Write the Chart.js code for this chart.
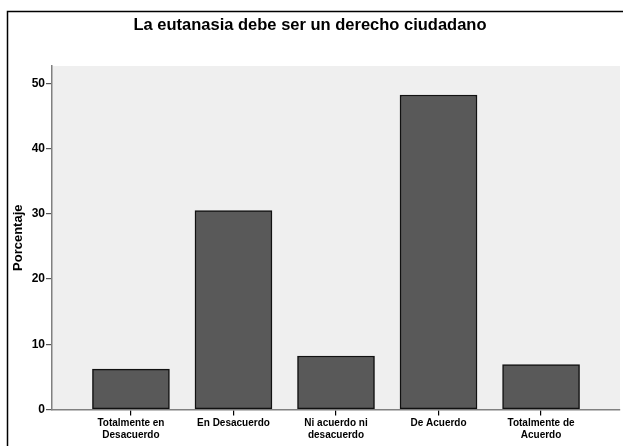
<!DOCTYPE html>
<html>
<head>
<meta charset="utf-8">
<script src="https://cdn.jsdelivr.net/npm/chart.js@4/dist/chart.umd.min.js"></script>
<style>
  html, body { margin: 0; padding: 0; background: #fff; }
  #wrap { width: 623px; height: 446px; }
</style>
</head>
<body>
<div id="wrap"><canvas id="chart" width="623" height="446"></canvas></div>
<script>
const FONT = '"Liberation Sans", Arial, sans-serif';

const categories = [
  ['Totalmente en', 'Desacuerdo'],
  ['En Desacuerdo'],
  ['Ni acuerdo ni', 'desacuerdo'],
  ['De Acuerdo'],
  ['Totalmente de', 'Acuerdo'],
];
const percentages = [6.2, 30.5, 8.2, 48.2, 6.9];
const yTicks = [0, 10, 20, 30, 40, 50];

// white page with the outer black frame, grey plot background
const framePlugin = {
  id: 'frame',
  beforeDraw(chart) {
    const { ctx, chartArea } = chart;
    ctx.save();
    ctx.fillStyle = '#ffffff';
    ctx.fillRect(0, 0, chart.width, chart.height);
    ctx.strokeStyle = '#000';
    ctx.lineWidth = 1.5;
    ctx.strokeRect(7.5, 11.5, chart.width + 20, chart.height + 20);
    ctx.fillStyle = '#efefef';
    ctx.fillRect(chartArea.left, chartArea.top, chartArea.right - chartArea.left, chartArea.bottom - chartArea.top);
    ctx.restore();
  },
};

new Chart(document.getElementById('chart'), {
  type: 'bar',
  data: {
    datasets: [{
      data: percentages.map((v, i) => ({ x: i, y: v })),
      backgroundColor: '#595959',
      borderColor: '#111',
      borderWidth: 1.5,
      borderSkipped: false,
      barThickness: 77,
    }],
  },
  options: {
    responsive: false,
    animation: false,
    layout: { padding: { left: 0, right: 3, top: 0, bottom: 0 } },
    plugins: {
      legend: { display: false },
      tooltip: { enabled: false },
      title: {
        display: true,
        text: 'La eutanasia debe ser un derecho ciudadano',
        color: '#000',
        font: { family: FONT, size: 16.5, weight: 'bold' },
        padding: { top: 15.2, bottom: 31 },
      },
    },
    scales: {
      x: {
        type: 'linear',
        offset: false,
        min: -0.77,
        max: 4.77,
        afterFit: s => { s.height = 36.5; },
        afterBuildTicks: s => { s.ticks = categories.map((c, i) => ({ value: i })); },
        ticks: {
          autoSkip: false,
          maxRotation: 0,
          padding: 2,
          color: '#000',
          font: { family: FONT, size: 10, weight: 'bold', lineHeight: 1.15 },
          callback: v => categories[v],
        },
        grid: { offset: false, drawOnChartArea: false, tickLength: 6, color: '#000', lineWidth: 1.2 },
        border: { display: true, color: '#808080', width: 1.5 },
      },
      y: {
        min: 0,
        max: 52.65,
        afterFit: s => { s.width = 52; },
        afterBuildTicks: s => { s.ticks = yTicks.map(v => ({ value: v })); },
        ticks: {
          padding: 1,
          color: '#000',
          font: { family: FONT, size: 12, weight: 'bold' },
        },
        grid: { drawOnChartArea: false, tickLength: 6, color: '#555', lineWidth: 1.2 },
        border: { display: true, color: '#808080', width: 1.5 },
        title: {
          display: true,
          text: 'Porcentaje',
          color: '#000',
          font: { family: FONT, size: 13, weight: 'bold' },
          padding: { top: 11, bottom: 0 },
        },
      },
    },
  },
  plugins: [framePlugin],
});
</script>
</body>
</html>
